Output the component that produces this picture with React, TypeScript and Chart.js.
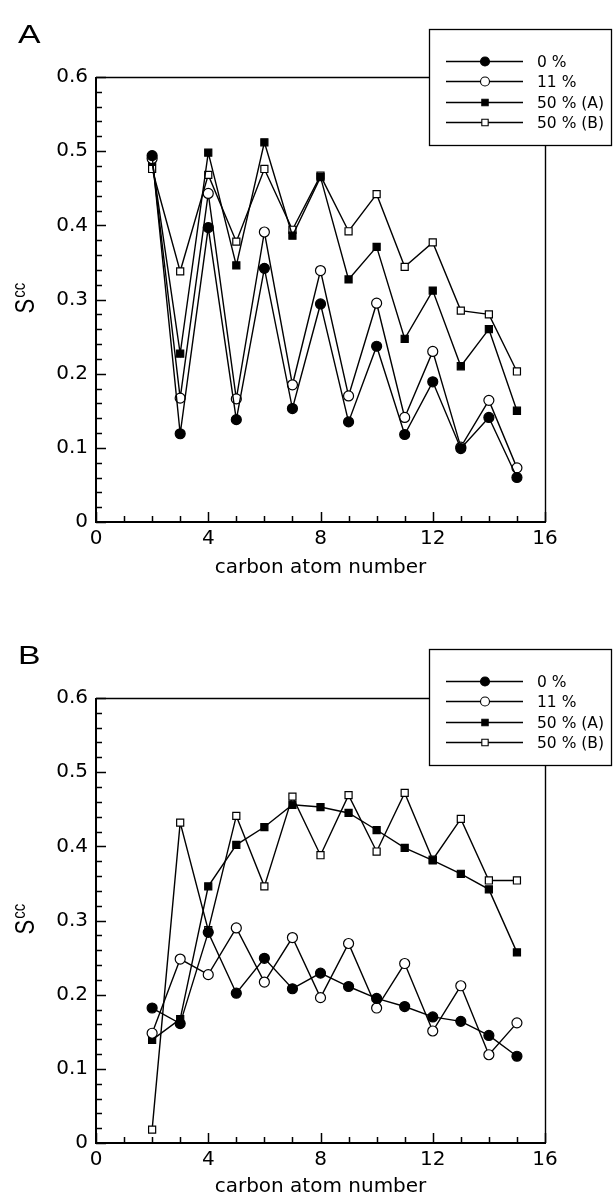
import React, { useEffect, useRef } from 'react';
import { Chart, registerables } from 'chart.js';

Chart.register(...registerables);

// ---------- data ----------
const carbonNumbers = [2, 3, 4, 5, 6, 7, 8, 9, 10, 11, 12, 13, 14, 15];
const seriesLabels = ['0 %', '11 %', '50 % (A)', '50 % (B)'];
const xTickLabels = ['0', '4', '8', '12', '16'];
const yTickLabels = ['0', '0.1', '0.2', '0.3', '0.4', '0.5', '0.6'];
const xAxisTitle = 'carbon atom number';
const yAxisTitleMain = 'S';
const yAxisTitleSup = 'cc';

// panel A
const panelA_0 = [0.494, 0.119, 0.397, 0.138, 0.342, 0.153, 0.294, 0.135, 0.237, 0.118, 0.189, 0.099, 0.141, 0.060];
const panelA_11 = [0.490, 0.167, 0.443, 0.166, 0.391, 0.185, 0.339, 0.170, 0.295, 0.141, 0.230, 0.101, 0.164, 0.073];
const panelA_50A = [0.487, 0.227, 0.498, 0.346, 0.512, 0.386, 0.465, 0.327, 0.371, 0.247, 0.312, 0.210, 0.260, 0.150];
const panelA_50B = [0.476, 0.338, 0.468, 0.378, 0.476, 0.394, 0.467, 0.392, 0.442, 0.344, 0.377, 0.285, 0.280, 0.203];

// panel B
const panelB_0 = [0.182, 0.161, 0.284, 0.202, 0.249, 0.208, 0.229, 0.211, 0.195, 0.184, 0.170, 0.164, 0.145, 0.117];
const panelB_11 = [0.148, 0.248, 0.227, 0.290, 0.217, 0.277, 0.196, 0.269, 0.182, 0.242, 0.151, 0.212, 0.119, 0.162];
const panelB_50A = [0.139, 0.167, 0.346, 0.402, 0.426, 0.456, 0.453, 0.445, 0.422, 0.398, 0.381, 0.363, 0.342, 0.257];
const panelB_50B = [0.018, 0.432, 0.287, 0.441, 0.346, 0.467, 0.388, 0.469, 0.393, 0.472, 0.382, 0.437, 0.354, 0.354];

// ---------- styles / layout ----------
const W = 613;
const PLOT_LEFT = 96;
const PLOT_RIGHT = 545;
const PLOT_TOP = 77;
const PLOT_BOTTOM = 522;
const FONT = 'DejaVu Sans';

const markers = [
  { style: 'circle', filled: true, radius: 5 },
  { style: 'circle', filled: false, radius: 5 },
  { style: 'rect', filled: true, radius: 5 },
  { style: 'rect', filled: false, radius: 5 },
];

function drawMarker(ctx: CanvasRenderingContext2D, i: number, x: number, y: number) {
  const m = markers[i];
  const r = m.radius * 0.9;
  ctx.beginPath();
  if (m.style === 'circle') {
    ctx.arc(x, y, r, 0, Math.PI * 2);
  } else {
    const s = r * Math.SQRT1_2;
    ctx.rect(x - s, y - s, 2 * s, 2 * s);
  }
  ctx.fillStyle = m.filled ? '#000' : '#fff';
  ctx.fill();
  ctx.lineWidth = 1.1;
  ctx.strokeStyle = '#000';
  ctx.stroke();
}

const decorPlugin = {
  id: 'decor',
  beforeDatasetsDraw(chart: any) {
    const { ctx, scales } = chart;
    const xs = scales.x;
    const ys = scales.y;
    const L = xs.getPixelForValue(0);
    const R = xs.getPixelForValue(16);
    const T = ys.getPixelForValue(0.6);
    const B = ys.getPixelForValue(0);
    ctx.save();
    ctx.strokeStyle = '#000';
    ctx.lineCap = 'butt';
    // frame
    ctx.lineWidth = 1.4;
    ctx.beginPath();
    ctx.moveTo(L, T + 0.5); ctx.lineTo(R, T + 0.5);
    ctx.moveTo(R + 0.5, T); ctx.lineTo(R + 0.5, B);
    ctx.stroke();
    ctx.lineWidth = 2;
    ctx.beginPath();
    ctx.moveTo(L, T); ctx.lineTo(L, B + 1);
    ctx.stroke();
    ctx.lineWidth = 2.2;
    ctx.beginPath();
    ctx.moveTo(L - 1, B); ctx.lineTo(R + 1, B);
    ctx.stroke();
    // inward ticks
    ctx.lineWidth = 1.5;
    ctx.beginPath();
    for (let k = 0; k <= 16; k++) {
      const px = Math.round(xs.getPixelForValue(k)) + 0.5;
      const len = k % 4 === 0 ? 10 : 6;
      ctx.moveTo(px, B);
      ctx.lineTo(px, B - len);
    }
    for (let k = 0; k <= 30; k++) {
      const py = Math.round(ys.getPixelForValue(k * 0.02)) + 0.5;
      const len = k % 5 === 0 ? 10 : 6;
      ctx.moveTo(L, py);
      ctx.lineTo(L + len, py);
    }
    ctx.stroke();
    ctx.restore();
  },
  afterDraw(chart: any, _args: any, opts: any) {
    const { ctx } = chart;
    ctx.save();
    // legend box
    const lx = 429.5, ly = opts.legendTop + 0.5, lw = 182, lh = 116;
    ctx.fillStyle = '#fff';
    ctx.fillRect(lx, ly, lw, lh);
    ctx.strokeStyle = '#000';
    ctx.lineWidth = 1.3;
    ctx.strokeRect(lx, ly, lw, lh);
    const rows = [32, 52, 73, 93];
    ctx.font = `15.5px "${FONT}"`;
    ctx.textBaseline = 'middle';
    ctx.textAlign = 'left';
    seriesLabels.forEach((lab, i) => {
      const ry = opts.legendTop + rows[i] + 0.5;
      ctx.strokeStyle = '#000';
      ctx.lineWidth = 1.4;
      ctx.beginPath();
      ctx.moveTo(446, ry); ctx.lineTo(523, ry);
      ctx.stroke();
      drawMarker(ctx, i, 485, ry);
      ctx.fillStyle = '#000';
      ctx.fillText(lab, 537, ry + 1);
    });
    // panel letter
    ctx.save();
    ctx.font = '26px "Liberation Sans"';
    ctx.textBaseline = 'alphabetic';
    ctx.fillStyle = '#000';
    ctx.scale(1.3, 1);
    ctx.fillText(opts.letter, 18 / 1.3, 43);
    ctx.restore();
    // y-axis title with superscript
    const cy = chart.scales.y.getPixelForValue(0.3) + 14;
    ctx.save();
    ctx.translate(34, cy);
    ctx.rotate(-Math.PI / 2);
    ctx.scale(1, 1.25);
    ctx.fillStyle = '#000';
    ctx.textAlign = 'left';
    ctx.textBaseline = 'alphabetic';
    ctx.font = '22px "Liberation Sans"';
    ctx.fillText(yAxisTitleMain, 0, 0);
    const sw = ctx.measureText(yAxisTitleMain).width;
    ctx.font = '15px "Liberation Sans"';
    ctx.fillText(yAxisTitleSup, sw + 1, -7);
    ctx.restore();
    ctx.restore();
  },
};

type PanelProps = {
  letter: string;
  series: number[][];
  height: number;
  top: number;
  titlePadBottom: number;
  legendTop: number;
};

function Panel({ letter, series, height, top, titlePadBottom, legendTop }: PanelProps) {
  const ref = useRef<HTMLCanvasElement | null>(null);
  useEffect(() => {
    if (!ref.current) return;
    const chart = new Chart(ref.current, {
      type: 'line',
      data: {
        datasets: series.map((vals, i) => ({
          label: seriesLabels[i],
          data: carbonNumbers.map((c, j) => ({ x: c, y: vals[j] })),
          borderColor: '#000',
          borderWidth: 1.4,
          pointStyle: markers[i].style as any,
          pointRadius: markers[i].radius,
          pointBackgroundColor: markers[i].filled ? '#000' : '#fff',
          pointBorderColor: '#000',
          pointBorderWidth: 1.2,
          tension: 0,
          fill: false,
        })),
      },
      options: {
        animation: false,
        responsive: false,
        maintainAspectRatio: false,
        devicePixelRatio: 1,
        layout: { padding: { left: 0, top: PLOT_TOP, right: W - PLOT_RIGHT, bottom: 0 } },
        plugins: {
          legend: { display: false },
          tooltip: { enabled: false },
          decor: { letter, legendTop },
        } as any,
        scales: {
          x: {
            type: 'linear',
            min: 0,
            max: 16,
            grid: { display: false, drawTicks: false },
            border: { display: false },
            ticks: {
              stepSize: 4,
              autoSkip: false,
              maxRotation: 0,
              padding: 5,
              color: '#000',
              font: { family: FONT, size: 20 },
              callback: (_v: any, i: number) => xTickLabels[i],
            },
            title: {
              display: true,
              text: xAxisTitle,
              color: '#000',
              font: { family: FONT, size: 20 },
              padding: { top: 0, bottom: titlePadBottom },
            },
            afterFit: (s: any) => {
              s.height = height - PLOT_BOTTOM;
            },
          },
          y: {
            type: 'linear',
            min: 0,
            max: 0.6,
            grid: { display: false, drawTicks: false },
            border: { display: false },
            ticks: {
              stepSize: 0.1,
              autoSkip: false,
              padding: 8,
              color: '#000',
              font: { family: FONT, size: 20 },
              callback: (_v: any, i: number) => yTickLabels[i],
            },
            afterFit: (s: any) => {
              s.width = PLOT_LEFT;
            },
          },
        },
      },
      plugins: [decorPlugin as any],
    });
    return () => chart.destroy();
  }, []);
  return (
    <canvas
      ref={ref}
      width={W}
      height={height}
      style={{ position: 'absolute', left: 0, top, width: W, height, display: 'block' }}
    />
  );
}

export default function App() {
  return (
    <div style={{ position: 'absolute', left: 0, top: 0, width: W, height: 1199, overflow: 'hidden', background: '#fff' }}>
      <Panel
        letter="A"
        series={[panelA_0, panelA_11, panelA_50A, panelA_50B]}
        height={600}
        top={0}
        titlePadBottom={20}
        legendTop={29}
      />
      <Panel
        letter="B"
        series={[panelB_0, panelB_11, panelB_50A, panelB_50B]}
        height={578}
        top={621}
        titlePadBottom={0}
        legendTop={28}
      />
    </div>
  );
}
